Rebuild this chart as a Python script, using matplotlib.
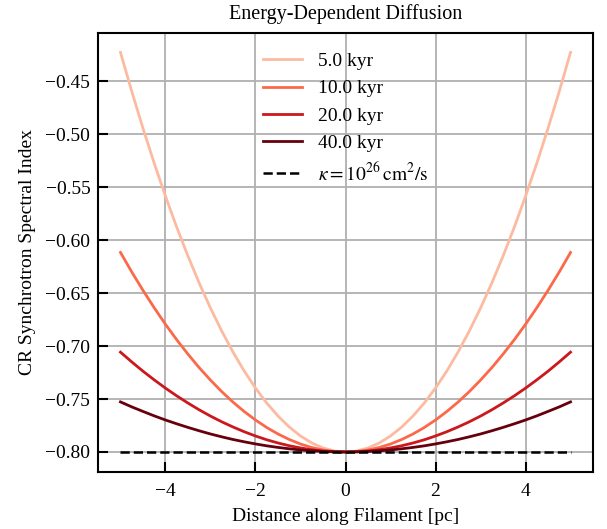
import matplotlib
matplotlib.use("Agg")
import matplotlib.pyplot as plt

#-----Data-----#
x_pc = [-5.0, -4.75, -4.5, -4.25, -4.0, -3.75, -3.5, -3.25, -3.0, -2.75, -2.5,
        -2.25, -2.0, -1.75, -1.5, -1.25, -1.0, -0.75, -0.5, -0.25, 0.0,
        0.25, 0.5, 0.75, 1.0, 1.25, 1.5, 1.75, 2.0, 2.25, 2.5,
        2.75, 3.0, 3.25, 3.5, 3.75, 4.0, 4.25, 4.5, 4.75, 5.0]

idx_5kyr = [-0.4225, -0.4593, -0.4942, -0.5273, -0.5584, -0.5877, -0.6150, -0.6405, -0.6641, -0.6858, -0.7056,
            -0.7236, -0.7396, -0.7538, -0.7660, -0.7764, -0.7849, -0.7915, -0.7962, -0.7991, -0.8000,
            -0.7991, -0.7962, -0.7915, -0.7849, -0.7764, -0.7660, -0.7538, -0.7396, -0.7236, -0.7056,
            -0.6858, -0.6641, -0.6405, -0.6150, -0.5877, -0.5584, -0.5273, -0.4942, -0.4593, -0.4225]
idx_10kyr = [-0.6115, -0.6299, -0.6473, -0.6638, -0.6794, -0.6940, -0.7076, -0.7204, -0.7321, -0.7430, -0.7529,
             -0.7618, -0.7698, -0.7769, -0.7830, -0.7882, -0.7925, -0.7958, -0.7981, -0.7995, -0.8000,
             -0.7995, -0.7981, -0.7958, -0.7925, -0.7882, -0.7830, -0.7769, -0.7698, -0.7618, -0.7529,
             -0.7430, -0.7321, -0.7204, -0.7076, -0.6940, -0.6794, -0.6638, -0.6473, -0.6299, -0.6115]
idx_20kyr = [-0.7057, -0.7149, -0.7237, -0.7319, -0.7397, -0.7470, -0.7538, -0.7602, -0.7661, -0.7715, -0.7764,
             -0.7809, -0.7849, -0.7885, -0.7915, -0.7941, -0.7962, -0.7979, -0.7991, -0.7998, -0.8000,
             -0.7998, -0.7991, -0.7979, -0.7962, -0.7941, -0.7915, -0.7885, -0.7849, -0.7809, -0.7764,
             -0.7715, -0.7661, -0.7602, -0.7538, -0.7470, -0.7397, -0.7319, -0.7237, -0.7149, -0.7057]
idx_40kyr = [-0.7527, -0.7574, -0.7617, -0.7659, -0.7698, -0.7734, -0.7768, -0.7800, -0.7830, -0.7857, -0.7882,
             -0.7904, -0.7924, -0.7942, -0.7957, -0.7970, -0.7981, -0.7989, -0.7995, -0.7999, -0.8000,
             -0.7999, -0.7995, -0.7989, -0.7981, -0.7970, -0.7957, -0.7942, -0.7924, -0.7904, -0.7882,
             -0.7857, -0.7830, -0.7800, -0.7768, -0.7734, -0.7698, -0.7659, -0.7617, -0.7574, -0.7527]
const_x = [-5.0, 5.0]
const_idx = [-0.80, -0.80]

series = [idx_5kyr, idx_10kyr, idx_20kyr, idx_40kyr]
labels = ["5.0 kyr", "10.0 kyr", "20.0 kyr", "40.0 kyr"]
shades = [0.25, 0.5, 0.75, 1.0]

#-----Style-----#
plt.rcParams['font.family'] = ['Liberation Serif', 'DejaVu Serif']
plt.rcParams['mathtext.fontset'] = 'stix'
plt.rcParams['font.size'] = 14

fig = plt.figure(figsize=(6.07, 5.29), dpi=100)
ax = fig.add_axes([0.1614, 0.1078, 0.8156, 0.8298])

cmap = plt.get_cmap('Reds')
for vals, lab, s in zip(series, labels, shades):
    ax.plot(x_pc, vals, color=cmap(s), lw=2, label=lab)
ax.plot(const_x, const_idx, 'k--', lw=1.8,
        label=r'$\kappa = 10^{26}\,\mathrm{cm^2/s}$')

ax.set_xlim(-5.5, 5.5)
ax.set_ylim(-0.8189, -0.4042)
ax.set_xticks([-4, -2, 0, 2, 4])
ax.set_yticks([-0.80, -0.75, -0.70, -0.65, -0.60, -0.55, -0.50, -0.45])

ax.set_title("Energy-Dependent Diffusion", fontsize=14.5, pad=10)
ax.set_xlabel("Distance along Filament [pc]", labelpad=6)
ax.set_ylabel("CR Synchrotron Spectral Index", labelpad=7)

ax.grid(True, color='#b0b0b0', lw=1.3)
ax.tick_params(direction='in', length=7, width=1.5, labelsize=14)
ax.tick_params(axis='x', pad=8)
ax.tick_params(axis='y', pad=5.5)
for sp in ax.spines.values():
    sp.set_linewidth(1.5)

ax.legend(loc='upper center', frameon=False, fontsize=14,
          handlelength=2.0, borderaxespad=0.6, labelspacing=0.5)

fig.savefig("out.png", dpi=100)
